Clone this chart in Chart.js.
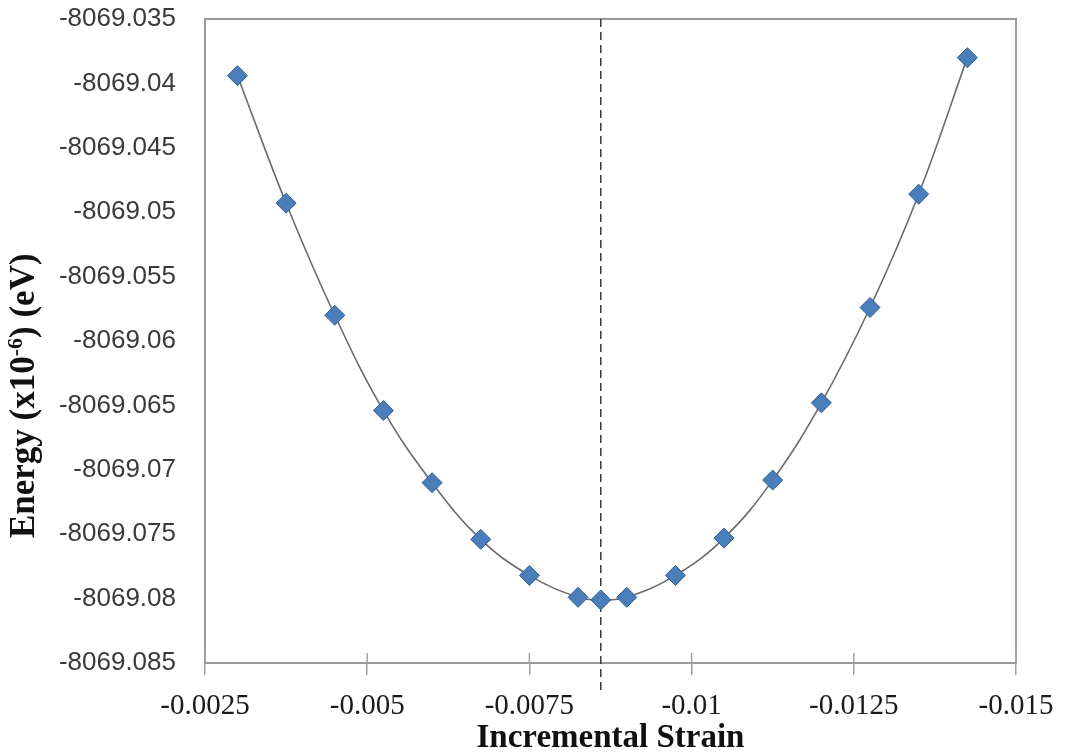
<!DOCTYPE html>
<html>
<head>
<meta charset="utf-8">
<script src="https://cdn.jsdelivr.net/npm/chart.js@4"></script>
<style>
  html, body { margin: 0; padding: 0; background: #ffffff; }
  #wrap { width: 1065px; height: 755px; position: relative; }
  canvas { display: block; }
</style>
</head>
<body>
<div id="wrap"><canvas id="c" width="1065" height="755"></canvas></div>
<script>
// ---- data ----
const strain = [-0.003, -0.00375, -0.0045, -0.00525, -0.006, -0.00675, -0.0075, -0.00825, -0.0086,
                -0.009, -0.00975, -0.0105, -0.01125, -0.012, -0.01275, -0.0135, -0.01425];
const energy = [-8069.0394, -8069.0493, -8069.0580, -8069.0654, -8069.0710, -8069.0754, -8069.0782, -8069.0799, -8069.0801,
                -8069.0799, -8069.0782, -8069.0753, -8069.0708, -8069.0648, -8069.0574, -8069.0486, -8069.0380];
const minimumStrain = [-0.0086];

const xTicks = [-0.015, -0.0125, -0.01, -0.0075, -0.005, -0.0025];
const xTickLabels = ['-0.015', '-0.0125', '-0.01', '-0.0075', '-0.005', '-0.0025'];
const yTicks = [-8069.085, -8069.08, -8069.075, -8069.07, -8069.065, -8069.06, -8069.055, -8069.05, -8069.045, -8069.04, -8069.035];
const yTickLabels = ['-8069.085', '-8069.08', '-8069.075', '-8069.07', '-8069.065', '-8069.06', '-8069.055', '-8069.05', '-8069.045', '-8069.04', '-8069.035'];

const xTitle = 'Incremental Strain';
const yTitleParts = ['Energy (x10', '-6', ') (eV)'];

// ---- plugins ----
const framePlugin = {
  id: 'frame',
  beforeDatasetsDraw(chart) {
    const {ctx, chartArea: a, scales} = chart;
    ctx.save();
    ctx.strokeStyle = '#9a9a9a';
    ctx.lineWidth = 2;
    ctx.strokeRect(a.left, a.top, a.right - a.left, a.bottom - a.top);
    ctx.lineWidth = 1.5;
    ctx.strokeStyle = '#a0a0a0';
    xTicks.forEach(v => {
      const px = scales.x.getPixelForValue(v);
      ctx.beginPath();
      ctx.moveTo(px, a.bottom - 10);
      ctx.lineTo(px, a.bottom);
      ctx.stroke();
    });
    minimumStrain.forEach(v => {
      const px = scales.x.getPixelForValue(v);
      ctx.setLineDash([8, 5]);
      ctx.strokeStyle = '#3a3a3a';
      ctx.lineWidth = 1.5;
      ctx.beginPath();
      ctx.moveTo(px, a.top);
      ctx.lineTo(px, a.bottom + 30);
      ctx.stroke();
    });
    ctx.restore();
  },
  afterDraw(chart) {
    const {ctx, chartArea: a} = chart;
    ctx.save();
    const cx = 25;
    const cy = a.top + 0.585 * (a.bottom - a.top);
    const big = 'bold 35px "Liberation Serif", "Times New Roman", serif';
    const small = 'bold 22px "Liberation Serif", "Times New Roman", serif';
    ctx.font = big;
    const w0 = ctx.measureText(yTitleParts[0]).width;
    const w2 = ctx.measureText(yTitleParts[2]).width;
    ctx.font = small;
    const w1 = ctx.measureText(yTitleParts[1]).width;
    const total = w0 + w1 + w2;
    ctx.translate(cx, cy);
    ctx.rotate(-Math.PI / 2);
    ctx.fillStyle = '#111111';
    ctx.textBaseline = 'middle';
    ctx.textAlign = 'left';
    let x = -total / 2;
    ctx.font = big;
    ctx.fillText(yTitleParts[0], x, 0);
    x += w0;
    ctx.font = small;
    ctx.fillText(yTitleParts[1], x, -9);
    x += w1;
    ctx.font = big;
    ctx.fillText(yTitleParts[2], x, 0);
    ctx.restore();
  }
};

const points = strain.map((s, i) => ({x: s, y: energy[i]}));

new Chart(document.getElementById('c'), {
  type: 'line',
  data: {
    datasets: [{
      label: 'Energy',
      data: points,
      borderColor: '#6b6b6b',
      borderWidth: 1.6,
      tension: 0.4,
      fill: false,
      pointStyle: 'rectRot',
      pointRadius: 10,
      pointBackgroundColor: '#4a7ebb',
      pointBorderColor: '#2f5f97',
      pointBorderWidth: 1
    }]
  },
  options: {
    responsive: false,
    animation: false,
    devicePixelRatio: 1,
    layout: { autoPadding: false, padding: { left: 0, right: 49, top: 19, bottom: 0 } },
    plugins: { legend: { display: false }, tooltip: { enabled: false } },
    scales: {
      x: {
        type: 'linear',
        reverse: true,
        min: -0.015,
        max: -0.0025,
        afterBuildTicks: s => { s.ticks = xTicks.map(v => ({value: v})); },
        afterFit: s => { s.height = 92; },
        grid: { drawOnChartArea: false, drawTicks: true, tickLength: 12, color: '#a0a0a0', lineWidth: 1.5 },
        border: { display: true, color: '#9a9a9a', width: 2 },
        ticks: {
          padding: 14,
          maxRotation: 0,
          autoSkip: false,
          color: '#1a1a1a',
          font: { family: '"Liberation Serif", "Times New Roman", serif', size: 29 },
          callback: (v) => xTickLabels[xTicks.indexOf(v)]
        },
        title: {
          display: true,
          text: xTitle,
          color: '#111111',
          padding: 0,
          font: { family: '"Liberation Serif", "Times New Roman", serif', size: 33, weight: 'bold', lineHeight: 1 }
        }
      },
      y: {
        type: 'linear',
        min: -8069.085,
        max: -8069.035,
        afterBuildTicks: s => { s.ticks = yTicks.map(v => ({value: v})); },
        afterFit: s => { s.width = 205; },
        grid: { display: false, drawTicks: true, tickLength: 29 },
        border: { display: true, color: '#9a9a9a', width: 2 },
        ticks: {
          padding: 0,
          autoSkip: false,
          color: '#3a3a3a',
          font: { family: '"Liberation Sans", Arial, sans-serif', size: 26 },
          callback: (v, i) => yTickLabels[i]
        }
      }
    }
  },
  plugins: [framePlugin]
});
</script>
</body>
</html>
